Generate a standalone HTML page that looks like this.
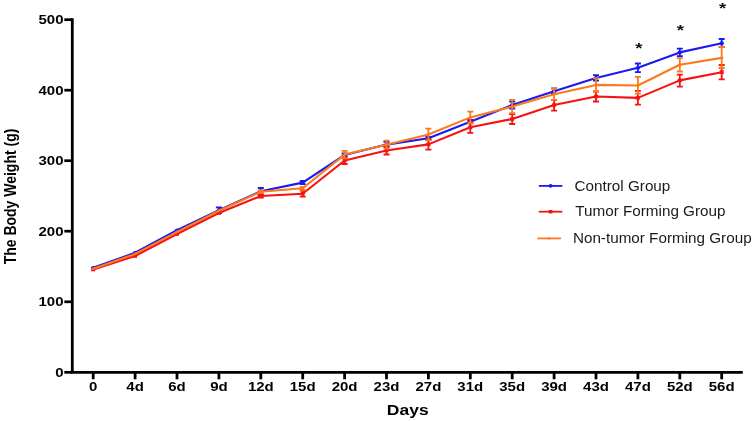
<!DOCTYPE html>
<html><head><meta charset="utf-8"><style>
html,body{margin:0;padding:0;background:#fff;}
svg{display:block;will-change:transform;}
.tk{font-family:"Liberation Sans",sans-serif;font-weight:bold;font-size:12.5px;fill:#000;}
.ttl{font-family:"Liberation Sans",sans-serif;font-weight:bold;font-size:14px;fill:#000;}
.st{font-family:"Liberation Sans",sans-serif;font-weight:bold;font-size:15.5px;fill:#111;}
.lg{font-family:"Liberation Sans",sans-serif;font-size:14px;fill:#1a1a1a;}
</style></head><body>
<svg width="753" height="421" viewBox="0 0 753 421">
<rect width="753" height="421" fill="#fff"/>
<path d="M72.3 18.3V373.6M70.8 372.3H742.8" stroke="#000" stroke-width="2.8" fill="none"/>
<path d="M64.3 19.7H72" stroke="#000" stroke-width="2.7"/>
<text x="52.92" y="24.2" transform="scale(1.2,1)" text-anchor="end" class="tk">500</text>
<path d="M64.3 90.2H72" stroke="#000" stroke-width="2.7"/>
<text x="52.92" y="94.7" transform="scale(1.2,1)" text-anchor="end" class="tk">400</text>
<path d="M64.3 160.7H72" stroke="#000" stroke-width="2.7"/>
<text x="52.92" y="165.2" transform="scale(1.2,1)" text-anchor="end" class="tk">300</text>
<path d="M64.3 231.2H72" stroke="#000" stroke-width="2.7"/>
<text x="52.92" y="235.7" transform="scale(1.2,1)" text-anchor="end" class="tk">200</text>
<path d="M64.3 301.8H72" stroke="#000" stroke-width="2.7"/>
<text x="52.92" y="306.3" transform="scale(1.2,1)" text-anchor="end" class="tk">100</text>
<path d="M64.3 372.3H72" stroke="#000" stroke-width="2.7"/>
<text x="52.92" y="376.8" transform="scale(1.2,1)" text-anchor="end" class="tk">0</text>
<path d="M93.2 373V379.3" stroke="#000" stroke-width="2.8"/>
<text x="77.67" y="391" transform="scale(1.2,1)" text-anchor="middle" class="tk">0</text>
<path d="M135.1 373V379.3" stroke="#000" stroke-width="2.8"/>
<text x="112.58" y="391" transform="scale(1.2,1)" text-anchor="middle" class="tk">4d</text>
<path d="M177.0 373V379.3" stroke="#000" stroke-width="2.8"/>
<text x="147.50" y="391" transform="scale(1.2,1)" text-anchor="middle" class="tk">6d</text>
<path d="M218.9 373V379.3" stroke="#000" stroke-width="2.8"/>
<text x="182.42" y="391" transform="scale(1.2,1)" text-anchor="middle" class="tk">9d</text>
<path d="M260.8 373V379.3" stroke="#000" stroke-width="2.8"/>
<text x="217.33" y="391" transform="scale(1.2,1)" text-anchor="middle" class="tk">12d</text>
<path d="M302.7 373V379.3" stroke="#000" stroke-width="2.8"/>
<text x="252.25" y="391" transform="scale(1.2,1)" text-anchor="middle" class="tk">15d</text>
<path d="M344.6 373V379.3" stroke="#000" stroke-width="2.8"/>
<text x="287.17" y="391" transform="scale(1.2,1)" text-anchor="middle" class="tk">20d</text>
<path d="M386.5 373V379.3" stroke="#000" stroke-width="2.8"/>
<text x="322.08" y="391" transform="scale(1.2,1)" text-anchor="middle" class="tk">23d</text>
<path d="M428.4 373V379.3" stroke="#000" stroke-width="2.8"/>
<text x="357.00" y="391" transform="scale(1.2,1)" text-anchor="middle" class="tk">27d</text>
<path d="M470.3 373V379.3" stroke="#000" stroke-width="2.8"/>
<text x="391.92" y="391" transform="scale(1.2,1)" text-anchor="middle" class="tk">31d</text>
<path d="M512.2 373V379.3" stroke="#000" stroke-width="2.8"/>
<text x="426.83" y="391" transform="scale(1.2,1)" text-anchor="middle" class="tk">35d</text>
<path d="M554.1 373V379.3" stroke="#000" stroke-width="2.8"/>
<text x="461.75" y="391" transform="scale(1.2,1)" text-anchor="middle" class="tk">39d</text>
<path d="M596.0 373V379.3" stroke="#000" stroke-width="2.8"/>
<text x="496.67" y="391" transform="scale(1.2,1)" text-anchor="middle" class="tk">43d</text>
<path d="M637.9 373V379.3" stroke="#000" stroke-width="2.8"/>
<text x="531.58" y="391" transform="scale(1.2,1)" text-anchor="middle" class="tk">47d</text>
<path d="M679.8 373V379.3" stroke="#000" stroke-width="2.8"/>
<text x="566.50" y="391" transform="scale(1.2,1)" text-anchor="middle" class="tk">52d</text>
<path d="M721.7 373V379.3" stroke="#000" stroke-width="2.8"/>
<text x="601.42" y="391" transform="scale(1.2,1)" text-anchor="middle" class="tk">56d</text>
<polyline points="93.2,267.8 135.1,252.8 177.0,230.3 218.9,210.2 260.8,191.3 302.7,182.6 344.6,155.0 386.5,144.6 428.4,138.2 470.3,121.7 512.2,105.0 554.1,91.2 596.0,77.9 637.9,67.8 679.8,52.4 721.7,43.2" fill="none" stroke="#1a1af2" stroke-width="2.1" stroke-linejoin="round"/>
<ellipse cx="93.2" cy="267.8" rx="2.2" ry="1.9" fill="#1a1af2"/>
<ellipse cx="135.1" cy="252.8" rx="2.2" ry="1.9" fill="#1a1af2"/>
<ellipse cx="177.0" cy="230.3" rx="2.2" ry="1.9" fill="#1a1af2"/>
<path d="M218.9 207.4V213.0M215.9 207.4H221.9M215.9 213.0H221.9" stroke="#1a1af2" stroke-width="1.8" fill="none"/>
<ellipse cx="218.9" cy="210.2" rx="2.2" ry="1.9" fill="#1a1af2"/>
<path d="M260.8 188.0V195.0M257.8 188.0H263.8M257.8 195.0H263.8" stroke="#1a1af2" stroke-width="1.8" fill="none"/>
<ellipse cx="260.8" cy="191.3" rx="2.2" ry="1.9" fill="#1a1af2"/>
<path d="M302.7 181.0V184.2M299.7 181.0H305.7M299.7 184.2H305.7" stroke="#1a1af2" stroke-width="1.8" fill="none"/>
<ellipse cx="302.7" cy="182.6" rx="2.2" ry="1.9" fill="#1a1af2"/>
<path d="M344.6 153.5V156.5M341.6 153.5H347.6M341.6 156.5H347.6" stroke="#1a1af2" stroke-width="1.8" fill="none"/>
<ellipse cx="344.6" cy="155.0" rx="2.2" ry="1.9" fill="#1a1af2"/>
<path d="M386.5 141.8V146.8M383.5 141.8H389.5M383.5 146.8H389.5" stroke="#1a1af2" stroke-width="1.8" fill="none"/>
<ellipse cx="386.5" cy="144.6" rx="2.2" ry="1.9" fill="#1a1af2"/>
<path d="M428.4 136.8V139.6M425.4 136.8H431.4M425.4 139.6H431.4" stroke="#1a1af2" stroke-width="1.8" fill="none"/>
<ellipse cx="428.4" cy="138.2" rx="2.2" ry="1.9" fill="#1a1af2"/>
<path d="M470.3 120.0V123.4M467.3 120.0H473.3M467.3 123.4H473.3" stroke="#1a1af2" stroke-width="1.8" fill="none"/>
<ellipse cx="470.3" cy="121.7" rx="2.2" ry="1.9" fill="#1a1af2"/>
<path d="M512.2 101.5V108.5M509.2 101.5H515.2M509.2 108.5H515.2" stroke="#1a1af2" stroke-width="1.8" fill="none"/>
<ellipse cx="512.2" cy="105.0" rx="2.2" ry="1.9" fill="#1a1af2"/>
<path d="M554.1 88.3V94.0M551.1 88.3H557.1M551.1 94.0H557.1" stroke="#1a1af2" stroke-width="1.8" fill="none"/>
<ellipse cx="554.1" cy="91.2" rx="2.2" ry="1.9" fill="#1a1af2"/>
<path d="M596.0 75.2V80.6M593.0 75.2H599.0M593.0 80.6H599.0" stroke="#1a1af2" stroke-width="1.8" fill="none"/>
<ellipse cx="596.0" cy="77.9" rx="2.2" ry="1.9" fill="#1a1af2"/>
<path d="M637.9 63.5V72.2M634.9 63.5H640.9M634.9 72.2H640.9" stroke="#1a1af2" stroke-width="1.8" fill="none"/>
<ellipse cx="637.9" cy="67.8" rx="2.2" ry="1.9" fill="#1a1af2"/>
<path d="M679.8 48.6V56.2M676.8 48.6H682.8M676.8 56.2H682.8" stroke="#1a1af2" stroke-width="1.8" fill="none"/>
<ellipse cx="679.8" cy="52.4" rx="2.2" ry="1.9" fill="#1a1af2"/>
<path d="M721.7 39.0V47.0M718.7 39.0H724.7M718.7 47.0H724.7" stroke="#1a1af2" stroke-width="1.8" fill="none"/>
<ellipse cx="721.7" cy="43.2" rx="2.2" ry="1.9" fill="#1a1af2"/>
<polyline points="93.2,269.5 135.1,256.0 177.0,234.0 218.9,213.0 260.8,196.0 302.7,193.7 344.6,160.5 386.5,150.5 428.4,144.4 470.3,127.3 512.2,119.0 554.1,105.0 596.0,96.5 637.9,97.9 679.8,80.4 721.7,72.2" fill="none" stroke="#f71212" stroke-width="2.1" stroke-linejoin="round"/>
<rect x="91.2" y="267.7" width="4" height="3.6" fill="#f71212"/>
<rect x="133.1" y="254.2" width="4" height="3.6" fill="#f71212"/>
<rect x="175.0" y="232.2" width="4" height="3.6" fill="#f71212"/>
<rect x="216.9" y="211.2" width="4" height="3.6" fill="#f71212"/>
<path d="M260.8 194.5V197.5M257.8 194.5H263.8M257.8 197.5H263.8" stroke="#f71212" stroke-width="1.8" fill="none"/>
<rect x="258.8" y="194.2" width="4" height="3.6" fill="#f71212"/>
<path d="M302.7 190.7V196.7M299.7 190.7H305.7M299.7 196.7H305.7" stroke="#f71212" stroke-width="1.8" fill="none"/>
<rect x="300.7" y="191.9" width="4" height="3.6" fill="#f71212"/>
<path d="M344.6 158.0V164.0M341.6 158.0H347.6M341.6 164.0H347.6" stroke="#f71212" stroke-width="1.8" fill="none"/>
<rect x="342.6" y="158.7" width="4" height="3.6" fill="#f71212"/>
<path d="M386.5 146.5V154.5M383.5 146.5H389.5M383.5 154.5H389.5" stroke="#f71212" stroke-width="1.8" fill="none"/>
<rect x="384.5" y="148.7" width="4" height="3.6" fill="#f71212"/>
<path d="M428.4 139.5V149.6M425.4 139.5H431.4M425.4 149.6H431.4" stroke="#f71212" stroke-width="1.8" fill="none"/>
<rect x="426.4" y="142.6" width="4" height="3.6" fill="#f71212"/>
<path d="M470.3 122.0V132.8M467.3 122.0H473.3M467.3 132.8H473.3" stroke="#f71212" stroke-width="1.8" fill="none"/>
<rect x="468.3" y="125.5" width="4" height="3.6" fill="#f71212"/>
<path d="M512.2 114.0V124.0M509.2 114.0H515.2M509.2 124.0H515.2" stroke="#f71212" stroke-width="1.8" fill="none"/>
<rect x="510.2" y="117.2" width="4" height="3.6" fill="#f71212"/>
<path d="M554.1 99.9V110.7M551.1 99.9H557.1M551.1 110.7H557.1" stroke="#f71212" stroke-width="1.8" fill="none"/>
<rect x="552.1" y="103.2" width="4" height="3.6" fill="#f71212"/>
<path d="M596.0 91.5V101.5M593.0 91.5H599.0M593.0 101.5H599.0" stroke="#f71212" stroke-width="1.8" fill="none"/>
<rect x="594.0" y="94.7" width="4" height="3.6" fill="#f71212"/>
<path d="M637.9 90.9V104.6M634.9 90.9H640.9M634.9 104.6H640.9" stroke="#f71212" stroke-width="1.8" fill="none"/>
<rect x="635.9" y="96.1" width="4" height="3.6" fill="#f71212"/>
<path d="M679.8 74.7V86.6M676.8 74.7H682.8M676.8 86.6H682.8" stroke="#f71212" stroke-width="1.8" fill="none"/>
<rect x="677.8" y="78.6" width="4" height="3.6" fill="#f71212"/>
<path d="M721.7 65.0V79.4M718.7 65.0H724.7M718.7 79.4H724.7" stroke="#f71212" stroke-width="1.8" fill="none"/>
<rect x="719.7" y="70.4" width="4" height="3.6" fill="#f71212"/>
<polyline points="93.2,268.8 135.1,253.9 177.0,231.9 218.9,210.7 260.8,191.8 302.7,188.2 344.6,154.6 386.5,144.7 428.4,134.5 470.3,117.4 512.2,106.5 554.1,94.3 596.0,84.9 637.9,85.5 679.8,64.8 721.7,57.9" fill="none" stroke="#fa7a1c" stroke-width="2.1" stroke-linejoin="round"/>
<ellipse cx="93.2" cy="268.8" rx="1.6" ry="1.4" fill="#fa7a1c"/>
<ellipse cx="135.1" cy="253.9" rx="1.6" ry="1.4" fill="#fa7a1c"/>
<ellipse cx="177.0" cy="231.9" rx="1.6" ry="1.4" fill="#fa7a1c"/>
<ellipse cx="218.9" cy="210.7" rx="1.6" ry="1.4" fill="#fa7a1c"/>
<path d="M260.8 190.5V193.1M257.8 190.5H263.8M257.8 193.1H263.8" stroke="#fa7a1c" stroke-width="1.8" fill="none"/>
<ellipse cx="260.8" cy="191.8" rx="1.6" ry="1.4" fill="#fa7a1c"/>
<path d="M302.7 186.8V189.8M299.7 186.8H305.7M299.7 189.8H305.7" stroke="#fa7a1c" stroke-width="1.8" fill="none"/>
<ellipse cx="302.7" cy="188.2" rx="1.6" ry="1.4" fill="#fa7a1c"/>
<path d="M344.6 150.8V158.4M341.6 150.8H347.6M341.6 158.4H347.6" stroke="#fa7a1c" stroke-width="1.8" fill="none"/>
<ellipse cx="344.6" cy="154.6" rx="1.6" ry="1.4" fill="#fa7a1c"/>
<path d="M386.5 140.7V148.7M383.5 140.7H389.5M383.5 148.7H389.5" stroke="#fa7a1c" stroke-width="1.8" fill="none"/>
<ellipse cx="386.5" cy="144.7" rx="1.6" ry="1.4" fill="#fa7a1c"/>
<path d="M428.4 128.6V140.4M425.4 128.6H431.4M425.4 140.4H431.4" stroke="#fa7a1c" stroke-width="1.8" fill="none"/>
<ellipse cx="428.4" cy="134.5" rx="1.6" ry="1.4" fill="#fa7a1c"/>
<path d="M470.3 111.6V123.2M467.3 111.6H473.3M467.3 123.2H473.3" stroke="#fa7a1c" stroke-width="1.8" fill="none"/>
<ellipse cx="470.3" cy="117.4" rx="1.6" ry="1.4" fill="#fa7a1c"/>
<path d="M512.2 99.9V113.1M509.2 99.9H515.2M509.2 113.1H515.2" stroke="#fa7a1c" stroke-width="1.8" fill="none"/>
<ellipse cx="512.2" cy="106.5" rx="1.6" ry="1.4" fill="#fa7a1c"/>
<path d="M554.1 88.7V99.9M551.1 88.7H557.1M551.1 99.9H557.1" stroke="#fa7a1c" stroke-width="1.8" fill="none"/>
<ellipse cx="554.1" cy="94.3" rx="1.6" ry="1.4" fill="#fa7a1c"/>
<path d="M596.0 78.2V91.6M593.0 78.2H599.0M593.0 91.6H599.0" stroke="#fa7a1c" stroke-width="1.8" fill="none"/>
<ellipse cx="596.0" cy="84.9" rx="1.6" ry="1.4" fill="#fa7a1c"/>
<path d="M637.9 76.9V93.7M634.9 76.9H640.9M634.9 93.7H640.9" stroke="#fa7a1c" stroke-width="1.8" fill="none"/>
<ellipse cx="637.9" cy="85.5" rx="1.6" ry="1.4" fill="#fa7a1c"/>
<path d="M679.8 58.2V71.5M676.8 58.2H682.8M676.8 71.5H682.8" stroke="#fa7a1c" stroke-width="1.8" fill="none"/>
<ellipse cx="679.8" cy="64.8" rx="1.6" ry="1.4" fill="#fa7a1c"/>
<path d="M721.7 47.0V68.0M718.7 47.0H724.7M718.7 68.0H724.7" stroke="#fa7a1c" stroke-width="1.8" fill="none"/>
<ellipse cx="721.7" cy="57.9" rx="1.6" ry="1.4" fill="#fa7a1c"/>
<text x="532.50" y="52.80" transform="scale(1.2,1)" text-anchor="middle" class="st">*</text>
<text x="567.00" y="34.80" transform="scale(1.2,1)" text-anchor="middle" class="st">*</text>
<text x="602.17" y="13.00" transform="scale(1.2,1)" text-anchor="middle" class="st">*</text>
<text x="326.20" y="414.7" transform="scale(1.25,1)" text-anchor="middle" class="ttl">Days</text>
<text transform="translate(16,196.5) scale(1.2,1) rotate(-90)" x="0" y="0" text-anchor="middle" class="ttl">The Body Weight (g)</text>
<path d="M538.8 185.9H562.3" stroke="#1a1af2" stroke-width="1.8"/>
<ellipse cx="550.55" cy="185.9" rx="2" ry="1.8" fill="#1a1af2"/>
<text x="527.16" y="190.8" transform="scale(1.09,1)" class="lg">Control Group</text>
<path d="M538.8 211.7H562.3" stroke="#f71212" stroke-width="1.8"/>
<rect x="548.75" y="210.0" width="3.6" height="3.4" fill="#f71212"/>
<text x="527.80" y="215.9" transform="scale(1.09,1)" class="lg">Tumor Forming Group</text>
<path d="M537.4 238.4H560.9" stroke="#fa7a1c" stroke-width="1.8"/>
<ellipse cx="549.15" cy="238.4" rx="1.4" ry="1.2" fill="#fa7a1c"/>
<text x="525.60" y="243.1" transform="scale(1.09,1)" class="lg">Non-tumor Forming Group</text>
</svg>
</body></html>
